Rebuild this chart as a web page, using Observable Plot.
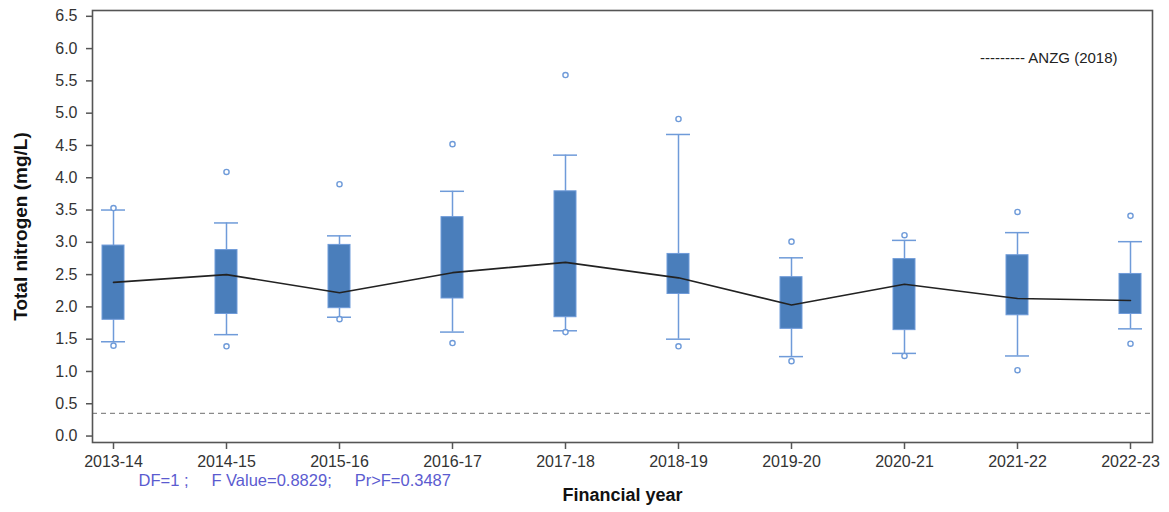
<!DOCTYPE html>
<html>
<head>
<meta charset="utf-8">
<script src="https://cdn.jsdelivr.net/npm/d3@7"></script>
<script src="https://cdn.jsdelivr.net/npm/@observablehq/plot@0.6"></script>
<style>
  html, body { margin: 0; padding: 0; background: #fff; }
  #chart svg { display: block; }
</style>
</head>
<body>
<div id="chart"></div>
<script>
// ---- Data ----
const years = ["2013-14", "2014-15", "2015-16", "2016-17", "2017-18", "2018-19", "2019-20", "2020-21", "2021-22", "2022-23"];
const q1 = [1.80, 1.89, 1.98, 2.13, 1.84, 2.20, 1.66, 1.64, 1.87, 1.89];
const q3 = [2.95, 2.88, 2.96, 3.39, 3.79, 2.82, 2.46, 2.74, 2.80, 2.51];
const whiskerLow = [1.46, 1.57, 1.84, 1.61, 1.63, 1.50, 1.23, 1.28, 1.24, 1.66];
const whiskerHigh = [3.50, 3.30, 3.10, 3.79, 4.35, 4.67, 2.76, 3.03, 3.15, 3.01];
const outlierHigh = [3.53, 4.09, 3.90, 4.52, 5.59, 4.91, 3.01, 3.11, 3.47, 3.41];
const outlierLow = [1.40, 1.39, 1.81, 1.44, 1.61, 1.39, 1.16, 1.24, 1.02, 1.43];
const centreLine = [2.38, 2.50, 2.22, 2.53, 2.69, 2.45, 2.03, 2.35, 2.13, 2.10];
const anzgGuideline = [0.35];
const yTicks = [0, 0.5, 1, 1.5, 2, 2.5, 3, 3.5, 4, 4.5, 5, 5.5, 6, 6.5];
const yLabel = "Total nitrogen (mg/L)";
const xLabel = "Financial year";
const legendLabel = "--------- ANZG (2018)";
const statsText = "DF=1 ;\u00a0\u00a0\u00a0\u00a0\u00a0F Value=0.8829;\u00a0\u00a0\u00a0\u00a0\u00a0Pr>F=0.3487";

// ---- Table built from the arrays ----
const rows = years.map((year, i) => ({
  year, q1: q1[i], q3: q3[i], lo: whiskerLow[i], hi: whiskerHigh[i],
  oHi: outlierHigh[i], oLo: outlierLow[i], mid: centreLine[i]
}));

const boxFill = "#4a7ebb";
const whiskerColor = "#6f9bd9";
const axisColor = "#555";

const chart = Plot.plot({
  width: 1169,
  height: 512,
  marginLeft: 92,
  marginRight: 17,
  marginTop: 10,
  marginBottom: 70,
  style: { fontFamily: "'Liberation Sans', Arial, sans-serif", background: "#fff", color: "#333" },
  x: { type: "band", domain: years, paddingInner: 0.805, paddingOuter: 0.089 },
  y: { domain: [-0.1, 6.59] },
  marks: [
    Plot.ruleY(anzgGuideline, { stroke: "#8a8a8a", strokeWidth: 1.2, strokeDasharray: "5,4" }),
    Plot.ruleX(rows, { x: "year", y1: "lo", y2: "q1", stroke: whiskerColor, strokeWidth: 1.5 }),
    Plot.ruleX(rows, { x: "year", y1: "q3", y2: "hi", stroke: whiskerColor, strokeWidth: 1.5 }),
    Plot.tickY(rows, { x: "year", y: "lo", stroke: whiskerColor, strokeWidth: 1.5, insetLeft: -1, insetRight: -1 }),
    Plot.tickY(rows, { x: "year", y: "hi", stroke: whiskerColor, strokeWidth: 1.5, insetLeft: -1, insetRight: -1 }),
    Plot.barY(rows, { x: "year", y1: "q1", y2: "q3", fill: boxFill, stroke: whiskerColor, strokeWidth: 1 }),
    Plot.dot(rows, { x: "year", y: "oHi", r: 2.6, stroke: whiskerColor, fill: "#fff", strokeWidth: 1.4 }),
    Plot.dot(rows, { x: "year", y: "oLo", r: 2.6, stroke: whiskerColor, fill: "#fff", strokeWidth: 1.4 }),
    Plot.lineY(rows, { x: "year", y: "mid", stroke: "#222", strokeWidth: 1.6 }),
    Plot.frame({ stroke: axisColor, strokeWidth: 1.6 }),
    Plot.axisY({ ticks: yTicks, tickFormat: d3.format(".1f"), tickSize: 6, tickPadding: 9, fontSize: 16, label: null, stroke: axisColor, strokeWidth: 1.5 }),
    Plot.axisX({ tickSize: 7, tickPadding: 6, fontSize: 16, label: null, stroke: axisColor, strokeWidth: 1.5 }),
    Plot.text([yLabel], { text: d => d, frameAnchor: "left", textAnchor: "middle", rotate: -90, dx: -72, fontWeight: "bold", fontSize: 19, fill: "#111" }),
    Plot.text([xLabel], { text: d => d, frameAnchor: "bottom", dy: 58, fontWeight: "bold", fontSize: 18, fill: "#111" }),
    Plot.text([statsText], { text: d => d, frameAnchor: "bottom-left", textAnchor: "start", dx: 46, dy: 43, fontSize: 16.5, fill: "#5b5bd0" }),
    Plot.text([legendLabel], { text: d => d, frameAnchor: "top-right", textAnchor: "end", dx: -35, dy: 42, fontSize: 15, fill: "#222" })
  ]
});

document.getElementById("chart").appendChild(chart);
</script>
</body>
</html>
